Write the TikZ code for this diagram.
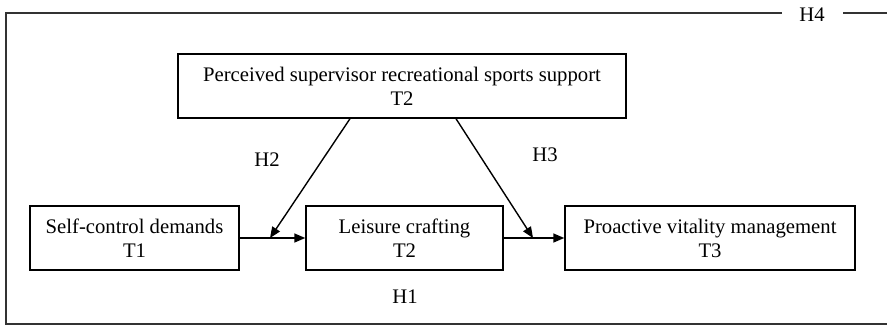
\documentclass[tikz,border=0pt]{standalone}
\usepackage{fontspec}
\setmainfont{Liberation Serif}
\usetikzlibrary{arrows.meta}
\begin{document}
\begin{tikzpicture}[x=1pt,y=-1pt,
  box/.style={draw, line width=1.4pt, inner sep=0pt, align=center, font=\fontsize{20.7}{24}\selectfont},
  lab/.style={font=\fontsize{20.7}{24}\selectfont, inner sep=1pt},
  arr/.style={line width=1.4pt, -{Triangle[length=11pt,width=9pt]}},
  frame/.style={line width=1.6pt, draw=black!80}]
\useasboundingbox (0,0) rectangle (887,327);
\node[box, minimum width=448pt, minimum height=64pt] (top) at (402,86) {Perceived supervisor recreational sports support\\T2};
\node[box, minimum width=209pt, minimum height=64pt] (sc) at (134.5,238) {Self-control demands\\T1};
\node[box, minimum width=197pt, minimum height=64pt] (lc) at (404.5,238) {Leisure crafting\\T2};
\node[box, minimum width=290pt, minimum height=64pt] (pv) at (710,238) {Proactive vitality management\\T3};
\coordinate (m1) at (270,238);
\coordinate (m2) at (533,238);
\draw[arr] (sc.east) -- (lc.west);
\draw[arr] (lc.east) -- (pv.west);
\draw[arr] (top.south -| 350,0) -- (m1);
\draw[arr] (top.south -| 456,0) -- (m2);
\node[lab] (h2) at (267,160) {H2};
\node[lab] (h3) at (545,155) {H3};
\node[lab] (h1) at (405,297) {H1};
\node[lab] (h4) at (812,15) {H4};
\coordinate (f1) at (6,324);
\coordinate (f2) at (887,324);
\coordinate (f3) at (6,13);
\coordinate (f4) at (782,13);
\coordinate (f5) at (843,13);
\coordinate (f6) at (887,13);
\draw[frame] (f4) -- (f3) -- (f1) -- (f2);
\draw[frame] (f5) -- (f6);
\end{tikzpicture}
\end{document}
